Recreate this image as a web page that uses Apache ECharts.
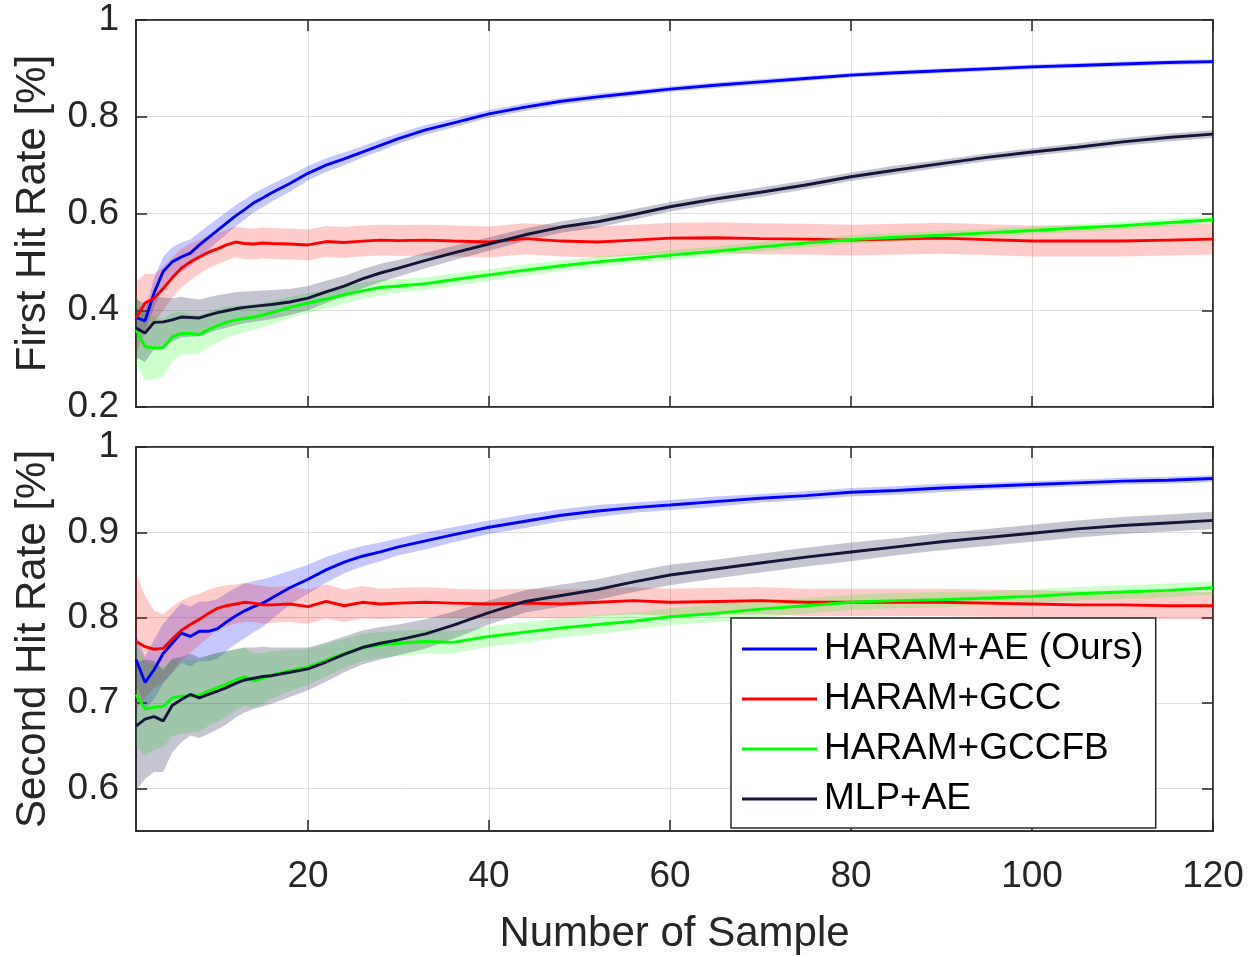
<!DOCTYPE html>
<html>
<head>
<meta charset="utf-8">
<script src="https://cdn.jsdelivr.net/npm/echarts@6/dist/echarts.min.js"></script>
<style>
html,body{margin:0;padding:0;background:#fff;}
#chart{width:1260px;height:956px;}
</style>
</head>
<body>
<div id="chart"></div>
<script>
// ---- data ----
const X = [1,2,3,4,5,6,7,8,9,10,11,12,13,14,15,16,18,20,22,24,26,28,30,33,36,40,44,48,52,56,60,65,70,75,80,85,90,95,100,105,110,115,120];
const seriesNames = ['HARAM+AE (Ours)', 'HARAM+GCC', 'HARAM+GCCFB', 'MLP+AE'];
const xTicks = [20, 40, 60, 80, 100, 120];
const yTicksTop = [0.2, 0.4, 0.6, 0.8, 1];
const yTicksBottom = [0.6, 0.7, 0.8, 0.9, 1];

// First hit rate (top panel): means and band half-widths
const topBlue = [0.385,0.378,0.436,0.48,0.50,0.51,0.518,0.535,0.55,0.565,0.58,0.595,0.608,0.622,0.632,0.643,0.662,0.683,0.70,0.713,0.727,0.741,0.755,0.773,0.787,0.806,0.82,0.832,0.841,0.849,0.857,0.865,0.872,0.879,0.886,0.891,0.895,0.899,0.903,0.906,0.909,0.912,0.914];
const topBlueSd = [0.02,0.02,0.03,0.03,0.03,0.03,0.028,0.026,0.025,0.024,0.023,0.022,0.021,0.02,0.019,0.018,0.017,0.015,0.014,0.013,0.012,0.012,0.011,0.01,0.009,0.008,0.008,0.007,0.007,0.006,0.006,0.006,0.006,0.005,0.005,0.005,0.005,0.005,0.005,0.005,0.005,0.005,0.005];
const topRed = [0.384,0.415,0.425,0.445,0.467,0.487,0.50,0.51,0.52,0.527,0.535,0.541,0.538,0.537,0.539,0.538,0.537,0.535,0.542,0.54,0.543,0.545,0.544,0.545,0.543,0.541,0.548,0.543,0.541,0.545,0.549,0.55,0.548,0.547,0.545,0.547,0.549,0.546,0.543,0.543,0.543,0.545,0.547];
const topRedSd = [0.075,0.06,0.05,0.045,0.042,0.04,0.038,0.035,0.033,0.032,0.032,0.032,0.032,0.032,0.032,0.032,0.032,0.032,0.032,0.032,0.032,0.032,0.032,0.032,0.032,0.032,0.032,0.032,0.032,0.032,0.032,0.032,0.032,0.032,0.032,0.032,0.032,0.032,0.032,0.032,0.032,0.032,0.032];
const topGreen = [0.36,0.325,0.322,0.323,0.345,0.352,0.352,0.35,0.36,0.368,0.375,0.38,0.383,0.386,0.39,0.395,0.406,0.415,0.423,0.432,0.44,0.447,0.45,0.455,0.463,0.473,0.483,0.492,0.5,0.507,0.514,0.522,0.531,0.539,0.546,0.551,0.555,0.56,0.565,0.57,0.575,0.581,0.587];
const topGreenSd = [0.07,0.07,0.065,0.06,0.05,0.045,0.042,0.04,0.037,0.035,0.032,0.03,0.028,0.027,0.025,0.024,0.022,0.02,0.019,0.018,0.017,0.016,0.014,0.013,0.013,0.012,0.012,0.011,0.011,0.01,0.01,0.01,0.01,0.009,0.009,0.009,0.009,0.008,0.008,0.008,0.008,0.008,0.008];
const topBlack = [0.363,0.353,0.375,0.376,0.38,0.386,0.385,0.384,0.39,0.395,0.399,0.403,0.406,0.408,0.41,0.412,0.417,0.425,0.438,0.45,0.465,0.477,0.487,0.503,0.518,0.537,0.556,0.572,0.583,0.598,0.614,0.63,0.644,0.659,0.676,0.69,0.703,0.716,0.727,0.737,0.748,0.757,0.764];
const topBlackSd = [0.06,0.06,0.055,0.05,0.045,0.042,0.04,0.038,0.037,0.036,0.035,0.034,0.033,0.032,0.031,0.03,0.027,0.025,0.023,0.021,0.02,0.019,0.017,0.016,0.015,0.014,0.013,0.012,0.012,0.011,0.01,0.01,0.01,0.009,0.009,0.009,0.008,0.008,0.008,0.008,0.008,0.008,0.008];

// Second hit rate (bottom panel)
const botBlue = [0.751,0.724,0.739,0.758,0.77,0.782,0.778,0.784,0.784,0.787,0.795,0.802,0.808,0.813,0.817,0.823,0.835,0.845,0.856,0.865,0.872,0.877,0.883,0.89,0.897,0.906,0.913,0.92,0.925,0.929,0.932,0.936,0.94,0.943,0.947,0.949,0.952,0.954,0.956,0.958,0.96,0.961,0.963];
const botBlueSd = [0.03,0.03,0.035,0.035,0.035,0.035,0.035,0.035,0.035,0.035,0.034,0.033,0.032,0.03,0.028,0.025,0.02,0.017,0.015,0.013,0.012,0.011,0.01,0.01,0.009,0.008,0.008,0.007,0.007,0.006,0.006,0.006,0.005,0.005,0.005,0.005,0.005,0.004,0.004,0.004,0.004,0.004,0.004];
const botRed = [0.772,0.766,0.763,0.764,0.775,0.785,0.792,0.798,0.805,0.811,0.814,0.816,0.818,0.817,0.815,0.815,0.816,0.813,0.819,0.814,0.818,0.816,0.817,0.818,0.817,0.816,0.817,0.816,0.818,0.82,0.818,0.819,0.82,0.818,0.818,0.818,0.818,0.817,0.816,0.815,0.815,0.814,0.814];
const botRedSd = [0.08,0.06,0.045,0.04,0.038,0.035,0.033,0.03,0.028,0.025,0.024,0.023,0.023,0.022,0.022,0.021,0.021,0.02,0.02,0.019,0.019,0.018,0.018,0.018,0.017,0.017,0.017,0.017,0.016,0.016,0.016,0.016,0.016,0.016,0.016,0.016,0.016,0.016,0.016,0.016,0.016,0.016,0.016];
const botGreen = [0.71,0.693,0.695,0.696,0.706,0.708,0.708,0.709,0.714,0.718,0.722,0.727,0.731,0.726,0.729,0.733,0.738,0.742,0.75,0.758,0.765,0.768,0.77,0.772,0.771,0.778,0.783,0.788,0.792,0.796,0.801,0.805,0.81,0.814,0.818,0.82,0.821,0.823,0.825,0.828,0.83,0.832,0.835];
const botGreenSd = [0.06,0.055,0.05,0.048,0.045,0.044,0.043,0.042,0.041,0.04,0.038,0.036,0.034,0.032,0.03,0.028,0.024,0.021,0.019,0.017,0.016,0.015,0.015,0.014,0.013,0.012,0.012,0.011,0.011,0.01,0.01,0.01,0.01,0.009,0.009,0.009,0.009,0.008,0.008,0.008,0.008,0.008,0.008];
const botBlack = [0.673,0.681,0.684,0.679,0.697,0.704,0.71,0.706,0.71,0.714,0.718,0.723,0.727,0.729,0.731,0.732,0.736,0.74,0.748,0.757,0.765,0.77,0.774,0.781,0.791,0.806,0.819,0.826,0.833,0.842,0.85,0.857,0.864,0.871,0.877,0.883,0.889,0.894,0.899,0.904,0.908,0.911,0.914];
const botBlackSd = [0.075,0.07,0.065,0.06,0.055,0.05,0.048,0.047,0.046,0.045,0.043,0.04,0.038,0.036,0.035,0.033,0.029,0.025,0.023,0.021,0.02,0.019,0.018,0.017,0.016,0.014,0.013,0.013,0.012,0.012,0.012,0.011,0.011,0.011,0.011,0.01,0.01,0.01,0.01,0.01,0.01,0.01,0.01];

// ---- styling ----
const FONT = '"Liberation Sans", Arial, Helvetica, sans-serif';
const TXT = '#262626';
const lineColors = ['#0000ff', '#ff0000', '#00ff00', '#15153a'];
const bandColors = ['rgba(0,0,255,0.22)', 'rgba(255,0,0,0.2)', 'rgba(0,255,0,0.2)', 'rgba(25,25,70,0.25)'];

const panels = [
  {means: [topBlue, topRed, topGreen, topBlack], sds: [topBlueSd, topRedSd, topGreenSd, topBlackSd]},
  {means: [botBlue, botRed, botGreen, botBlack], sds: [botBlueSd, botRedSd, botGreenSd, botBlackSd]}
];

function bandRender(mean, sd, fill) {
  return function (params, api) {
    if (params.dataIndex !== 0) return null;
    const up = [], lo = [];
    for (let i = 0; i < X.length; i++) {
      up.push(api.coord([X[i], mean[i] + sd[i]]));
      lo.push(api.coord([X[i], mean[i] - sd[i]]));
    }
    return {type: 'polygon', shape: {points: up.concat(lo.reverse())}, style: {fill: fill, stroke: null}};
  };
}

const series = [];
panels.forEach((p, pi) => {
  const xi = pi * 2, yi = pi * 2;
  p.means.forEach((m, k) => {
    series.push({
      type: 'custom', xAxisIndex: xi, yAxisIndex: yi, silent: true, z: 1,
      data: X.map((x, i) => [x, m[i] - p.sds[k][i], m[i] + p.sds[k][i]]),
      encode: {x: 0, y: [1, 2]},
      renderItem: bandRender(m, p.sds[k], bandColors[k])
    });
  });
  p.means.forEach((m, k) => {
    series.push({
      type: 'line', name: seriesNames[k], xAxisIndex: xi, yAxisIndex: yi, z: 3,
      showSymbol: false, symbol: 'none',
      lineStyle: {color: lineColors[k], width: 2.9},
      itemStyle: {color: lineColors[k]},
      data: X.map((x, i) => [x, m[i]])
    });
  });
});

const axisLineStyle = {show: true, lineStyle: {color: TXT, width: 1.5}};
const splitStyle = {show: true, lineStyle: {color: '#dedede', width: 1}};
function tickStyle(vals) {
  return {show: true, inside: true, length: 11, customValues: vals, lineStyle: {color: TXT, width: 1.5}};
}

function xMain(gi, showLabels) {
  return {
    type: 'value', gridIndex: gi, min: 1, max: 120, position: 'bottom',
    axisLine: axisLineStyle, axisTick: tickStyle(xTicks), splitLine: splitStyle,
    axisLabel: {show: showLabels, customValues: xTicks, color: TXT, fontSize: 37, fontFamily: FONT, margin: 27,
      formatter: v => String(Math.round(v))},
    name: showLabels ? 'Number of Sample' : '', nameLocation: 'middle', nameGap: 82,
    nameTextStyle: {color: TXT, fontSize: 42, fontFamily: FONT}
  };
}
function xTop(gi) {
  return {
    type: 'value', gridIndex: gi, min: 1, max: 120, position: 'top',
    axisLine: axisLineStyle, axisTick: tickStyle(xTicks), splitLine: {show: false}, axisLabel: {show: false}
  };
}
function yMain(gi, min, max, ticks, name) {
  return {
    type: 'value', gridIndex: gi, min: min, max: max, position: 'left',
    axisLine: axisLineStyle, axisTick: tickStyle(ticks), splitLine: splitStyle,
    axisLabel: {customValues: ticks, color: TXT, fontSize: 37, fontFamily: FONT, margin: 17,
      formatter: v => String(+(+v).toFixed(1))},
    name: name, nameLocation: 'middle', nameGap: 82,
    nameTextStyle: {color: TXT, fontSize: 42, fontFamily: FONT}
  };
}
function yRight(gi, min, max, ticks) {
  return {
    type: 'value', gridIndex: gi, min: min, max: max, position: 'right',
    axisLine: axisLineStyle, axisTick: tickStyle(ticks), splitLine: {show: false}, axisLabel: {show: false}
  };
}

const option = {
  animation: false,
  backgroundColor: '#ffffff',
  textStyle: {fontFamily: FONT},
  grid: [
    {left: 136, top: 20, width: 1077, height: 387, show: true, borderColor: TXT, borderWidth: 1.5, backgroundColor: 'transparent'},
    {left: 136, top: 447, width: 1077, height: 385, show: true, borderColor: TXT, borderWidth: 1.5, backgroundColor: 'transparent'}
  ],
  xAxis: [xMain(0, false), xTop(0), xMain(1, true), xTop(1)],
  yAxis: [
    yMain(0, 0.2, 1, yTicksTop, 'First Hit Rate [%]'), yRight(0, 0.2, 1, yTicksTop),
    yMain(1, 0.55, 1, yTicksBottom, 'Second Hit Rate [%]'), yRight(1, 0.55, 1, yTicksBottom)
  ],
  legend: {
    data: seriesNames, orient: 'vertical', left: 731, top: 618,
    padding: [10, 12, 8, 11], itemGap: 8, itemWidth: 75, itemHeight: 3, icon: 'rect',
    backgroundColor: '#ffffff', borderColor: TXT, borderWidth: 1.5, borderRadius: 0,
    textStyle: {color: '#000', fontSize: 37, fontFamily: FONT, lineHeight: 42, padding: [0, 0, 0, 2]},
    selectedMode: false
  },
  series: series
};

const chart = echarts.init(document.getElementById('chart'), null, {renderer: 'canvas'});
chart.setOption(option);
</script>
</body>
</html>
